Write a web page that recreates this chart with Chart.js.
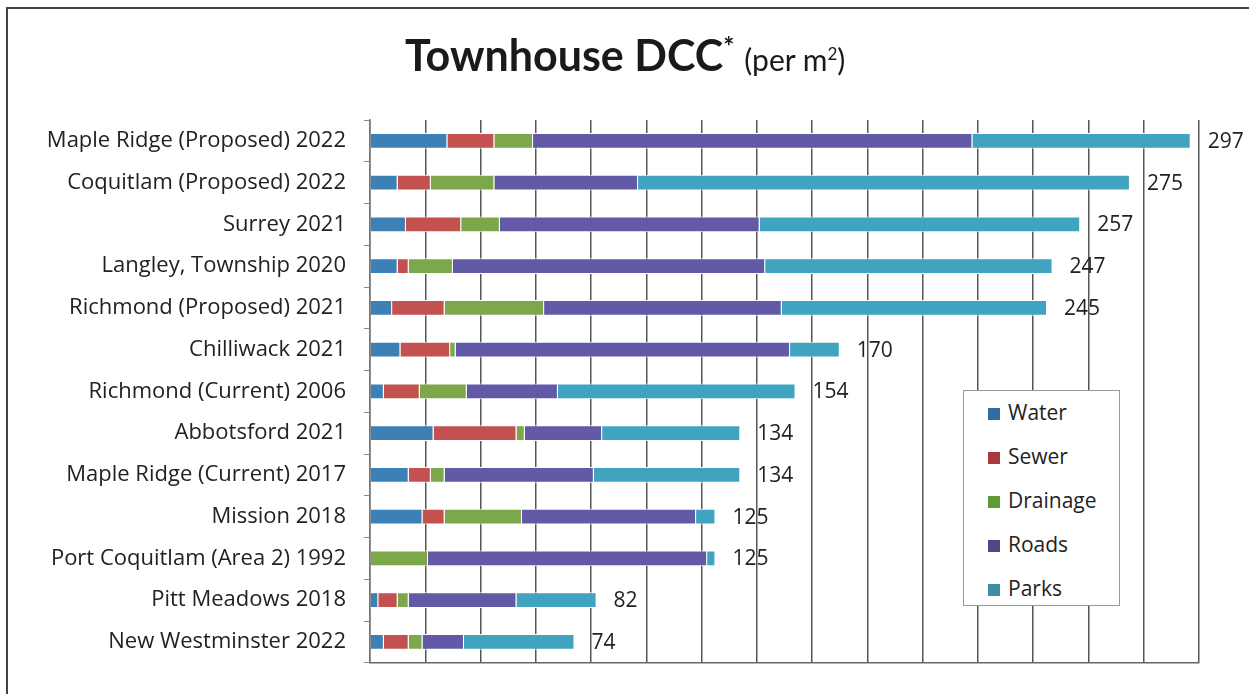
<!DOCTYPE html>
<html>
<head>
<meta charset="utf-8">
<script src="https://cdn.jsdelivr.net/npm/chart.js@4"></script>
<style>
  html, body { margin: 0; padding: 0; background: #fff; overflow: hidden; }
  #wrap { position: relative; width: 1249px; height: 694px; }
  #frame { position: absolute; left: 6px; top: 7px; width: 1300px; height: 800px; border-left: 2px solid #444; border-top: 2px solid #444; }
  #title { position: absolute; left: 405px; top: 29px; font-family: Lato, "Open Sans", sans-serif; color: #1a1a1a; white-space: nowrap; }
  #title .main { font-size: 43px; font-weight: bold; }
  #title .main sup { font-size: 26px; }
  #title .unit { font-size: 30px; margin-left: 6px; }
  #title .unit sup { font-size: 17px; }
  #legend { position: absolute; left: 963px; top: 390px; width: 155px; height: 214px; background: #fff; border: 1px solid #999; font-family: "Open Sans", sans-serif; font-size: 21px; color: #222; }
  #legend div { position: absolute; left: 24px; height: 26px; line-height: 26px; }
  #legend span { display: inline-block; width: 12px; height: 12px; margin-right: 8px; vertical-align: 0px; }
  canvas { position: absolute; left: 0; top: 0; }
</style>
</head>
<body>
<div id="wrap">
  <div id="frame"></div>
  <canvas id="dcc" width="1249" height="694"></canvas>
  <div id="title"><span class="main">Townhouse DCC<sup>*</sup></span> <span class="unit">(per m<sup>2</sup>)</span></div>
  <div id="legend"></div>
</div>
<script>
// categories, top to bottom
const places = [
  "Maple Ridge (Proposed) 2022",
  "Coquitlam (Proposed) 2022",
  "Surrey 2021",
  "Langley, Township 2020",
  "Richmond (Proposed) 2021",
  "Chilliwack 2021",
  "Richmond (Current) 2006",
  "Abbotsford 2021",
  "Maple Ridge (Current) 2017",
  "Mission 2018",
  "Port Coquitlam (Area 2) 1992",
  "Pitt Meadows 2018",
  "New Westminster 2022"
];

// per m2
const water    = [28, 10, 13, 10,  8, 11,  5, 23, 14, 19,   0,  3,  5];
const sewer    = [17, 12, 20,  4, 19, 18, 13, 30,  8,  8,   0,  7,  9];
const drainage = [14, 23, 14, 16, 36,  2, 17,  3,  5, 28,  21,  4,  5];
const roads    = [159, 52, 94, 113, 86, 121, 33, 28, 54, 63, 101, 39, 15];
const parks    = [79, 178, 116, 104, 96, 18, 86, 50, 53,  7,   3, 29, 40];

const xMax = 300;
const xStep = 20;

const seriesNames = ["Water", "Sewer", "Drainage", "Roads", "Parks"];
const barColors = ["#3c80b6", "#c2514f", "#7ca74b", "#625aa7", "#40a3c0"];
const keyColors = ["#2f6ea3", "#a83a3f", "#5f9a38", "#4f4886", "#3a8ea6"];

const allSeries = [water, sewer, drainage, roads, parks];

// legend box (html)
const legendBox = document.getElementById("legend");
seriesNames.forEach((name, i) => {
  const row = document.createElement("div");
  row.style.top = (8 + i * 44) + "px";
  row.innerHTML = '<span style="background:' + keyColors[i] + '"></span>' + name;
  legendBox.appendChild(row);
});

// totals at the end of each bar
const totalLabels = {
  id: "totalLabels",
  afterDatasetsDraw(chart) {
    const ctx = chart.ctx;
    const last = chart.getDatasetMeta(chart.data.datasets.length - 1);
    ctx.save();
    ctx.font = "21px 'Open Sans', sans-serif";
    ctx.fillStyle = "#222";
    ctx.textAlign = "left";
    ctx.textBaseline = "middle";
    places.forEach((p, i) => {
      const total = allSeries.reduce((s, arr) => s + arr[i], 0);
      const bar = last.data[i];
      ctx.fillText(String(total), bar.x + 17, bar.y + 1);
    });
    ctx.restore();
  }
};

new Chart(document.getElementById("dcc"), {
  type: "bar",
  data: {
    labels: places,
    datasets: seriesNames.map((name, i) => ({
      label: name,
      data: allSeries[i],
      backgroundColor: barColors[i],
      borderColor: "#ffffff",
      borderWidth: 1,
      categoryPercentage: 1,
      barPercentage: 0.38
    }))
  },
  options: {
    indexAxis: "y",
    responsive: false,
    animation: false,
    layout: { padding: { top: 120, right: 50, bottom: 24, left: 0 } },
    plugins: {
      legend: { display: false },
      tooltip: { enabled: false }
    },
    scales: {
      x: {
        stacked: true,
        min: 0,
        max: xMax,
        ticks: { display: false, stepSize: xStep },
        grid: { color: "#555", lineWidth: 1.5, drawTicks: false },
        border: { color: "#666", width: 1.5 },
        afterFit: (scale) => { scale.height = 0; }
      },
      y: {
        stacked: true,
        ticks: {
          color: "#222",
          font: { family: "Open Sans", size: 22 },
          padding: 18
        },
        grid: { drawOnChartArea: false, drawTicks: true, tickLength: 6, color: "#888" },
        border: { color: "#777", width: 1.5 },
        afterFit: (scale) => { scale.width = 370; }
      }
    }
  },
  plugins: [totalLabels]
});
</script>
</body>
</html>
